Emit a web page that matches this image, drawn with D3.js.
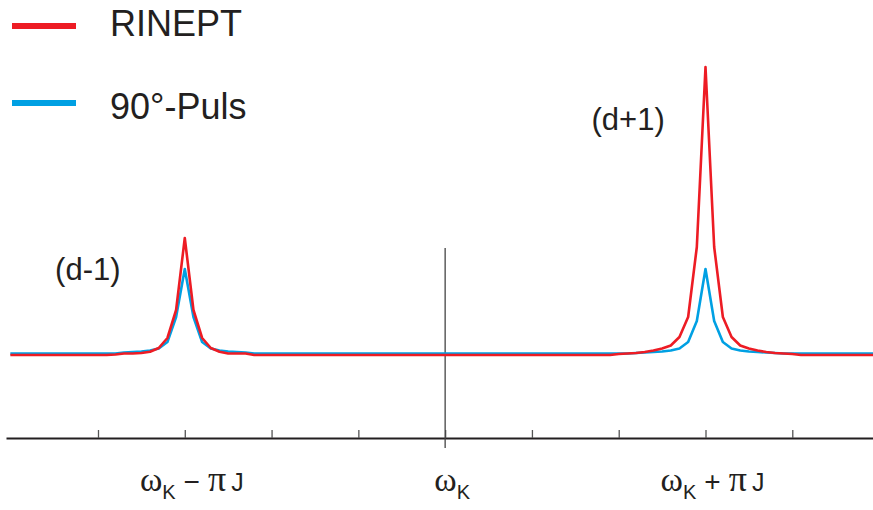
<!DOCTYPE html>
<html>
<head>
<meta charset="utf-8">
<script src="https://cdn.jsdelivr.net/npm/d3@7"></script>
<style>
  body { margin: 0; background: #fff; }
  text { font-family: "Liberation Sans", Arial, sans-serif; fill: #231f20; }
</style>
</head>
<body>
<svg id="chart" width="873" height="510"></svg>
<script>
// x in units of one tick (centre = omega_K, peaks at -3 / +3), y = signal height
var rineptX = [-5.01, -3.9, -3.8, -3.7, -3.6, -3.5, -3.4, -3.3, -3.2, -3.1, -3.0, -2.9, -2.8, -2.7, -2.6, -2.5, -2.4, -2.3, -2.2,
               1.9, 2.0, 2.1, 2.2, 2.3, 2.4, 2.5, 2.6, 2.7, 2.8, 2.9, 3.0, 3.1, 3.2, 3.3, 3.4, 3.5, 3.6, 3.7, 3.8, 3.9, 4.0, 4.1, 4.93];
var rineptY = [0, 0, 0.5, 1.5, 1.5, 2, 3.3, 7, 17, 45, 117, 45, 17, 7, 3.3, 1.5, 1.5, 1.5, 0,
               0, 1, 1.5, 2, 3, 4.5, 6.5, 9.5, 18, 38, 108, 288, 108, 38, 18, 9.5, 6.5, 4.5, 3, 2, 1.5, 1, 0, 0];

var pulsX = [-5.01, -3.8, -3.7, -3.6, -3.5, -3.4, -3.3, -3.2, -3.1, -3.0, -2.9, -2.8, -2.7, -2.6, -2.5, -2.4, -2.3, -2.2,
             2.1, 2.2, 2.3, 2.4, 2.5, 2.6, 2.7, 2.8, 2.9, 3.0, 3.1, 3.2, 3.3, 3.4, 3.5, 3.6, 3.7, 3.8, 3.9, 4.93];
var pulsY = [1.5, 1.5, 2.5, 3, 3.5, 4.5, 6.5, 13, 38, 86, 38, 13, 6.5, 4.5, 3.5, 3, 2.5, 1.5,
             1.5, 2, 2.5, 3, 3.5, 4.5, 6.5, 13, 34, 86, 34, 13, 6.5, 4.5, 3.5, 3, 2.5, 2, 1.5, 1.5];

var tickValues = [-4, -3, -2, -1, 0, 1, 2, 3, 4];
var labelPos = [-3, 0, 3];
var labelOps = ["\u2212", "", "+"];

var seriesNames = ["RINEPT", "90\u00b0-Puls"];
var seriesColors = ["#ed1c24", "#00a0e3"];
// annotation anchor (right end of text, baseline) in data units
var annText = ["(d-1)", "(d+1)"];
var annX = [-3.74, 2.53];
var annY = [75, 225];

var svg = d3.select("#chart");

var x = d3.scaleLinear().domain([-5.06, 4.93]).range([6, 873]);
var y = d3.scaleLinear().domain([0, 300]).range([355, 55]);

// axis with ticks pointing up
var axis = d3.axisTop(x)
    .tickValues(tickValues)
    .tickSize(8)
    .tickSizeOuter(0)
    .tickFormat("");

var gAxis = svg.append("g")
    .attr("transform", "translate(0,438)")
    .call(axis);
gAxis.select(".domain").attr("stroke", "#231f20").attr("stroke-width", 2);
gAxis.selectAll(".tick line").attr("stroke", "#555").attr("stroke-width", 1.3);

// centre line at omega_K
svg.append("line")
    .attr("x1", x(0)).attr("x2", x(0))
    .attr("y1", 248).attr("y2", 448)
    .attr("stroke", "#444")
    .attr("stroke-width", 1.3);

var line = d3.line()
    .x(d => x(d[0]))
    .y(d => y(d[1]));

var series = [d3.zip(pulsX, pulsY), d3.zip(rineptX, rineptY)];
var colorsDraw = [seriesColors[1], seriesColors[0]];

svg.selectAll("path.sig")
    .data(series)
    .enter()
    .append("path")
    .attr("class", "sig")
    .attr("d", line)
    .attr("fill", "none")
    .attr("stroke", (d, i) => colorsDraw[i])
    .attr("stroke-width", 2.6)
    .attr("stroke-linejoin", "round");

// legend
var legend = svg.selectAll("g.legend")
    .data(seriesNames)
    .enter()
    .append("g")
    .attr("class", "legend")
    .attr("transform", (d, i) => "translate(0," + (26 + i * 77) + ")");

legend.append("line")
    .attr("x1", 12).attr("x2", 76)
    .attr("stroke", (d, i) => seriesColors[i])
    .attr("stroke-width", 6);

legend.append("text")
    .attr("x", 110)
    .attr("y", 10)
    .attr("dy", (d, i) => i == 0 ? 0 : 6)
    .style("font-size", "36px")
    .text(d => d);

// peak annotations
svg.selectAll("text.ann")
    .data(annText)
    .enter()
    .append("text")
    .attr("class", "ann")
    .attr("x", (d, i) => x(annX[i]))
    .attr("y", (d, i) => y(annY[i]))
    .attr("text-anchor", "end")
    .style("font-size", "31px")
    .text(d => d);

// x labels: omega_K -/+ pi J
var lab = svg.selectAll("text.xlab")
    .data(labelPos)
    .enter()
    .append("text")
    .attr("class", "xlab")
    .attr("x", d => x(d) + 7)
    .attr("y", 491)
    .attr("text-anchor", "middle");

lab.append("tspan")
    .style("font-family", "'Liberation Serif', 'Times New Roman', serif")
    .style("font-size", "34px")
    .text("\u03c9");
lab.append("tspan")
    .attr("dy", 8)
    .style("font-size", "20px")
    .text("K");

var withOp = lab.filter((d, i) => labelOps[i] != "");
withOp.append("tspan")
    .attr("dx", 8)
    .attr("dy", -8)
    .style("font-size", "28px")
    .text(d => labelOps[labelPos.indexOf(d)]);
withOp.append("tspan")
    .attr("dx", 8)
    .style("font-family", "'Liberation Serif', 'Times New Roman', serif")
    .style("font-size", "36px")
    .text("\u03c0");
withOp.append("tspan")
    .attr("dx", 5)
    .style("font-size", "25px")
    .text("J");
</script>
</body>
</html>
